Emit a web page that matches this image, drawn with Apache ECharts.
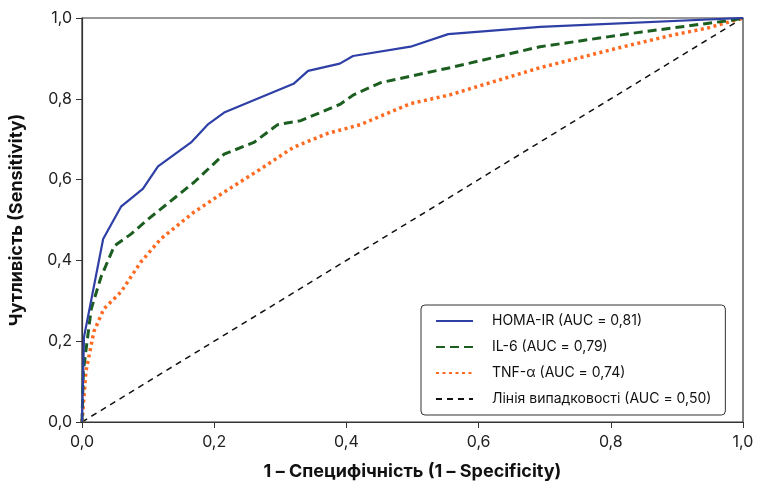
<!DOCTYPE html>
<html><head><meta charset="utf-8">
<script src="https://cdn.jsdelivr.net/npm/echarts@6/dist/echarts.min.js"></script>
<style>html,body{margin:0;padding:0;background:#fff}#c{width:757px;height:486px}</style>
</head><body><div id="c"></div>
<script>
const xTicks = [0, 0.2, 0.4, 0.6, 0.8, 1.0];
const seriesNames = ['HOMA-IR (AUC = 0,81)', 'IL-6 (AUC = 0,79)', 'TNF-α (AUC = 0,74)', 'Лінія випадковості (AUC = 0,50)'];
const homaFpr = [0, 0.003, 0.032, 0.059, 0.092, 0.115, 0.165, 0.19, 0.215, 0.32, 0.342, 0.39, 0.41, 0.497, 0.554, 0.693, 1.0];
const homaTpr = [0, 0.21, 0.453, 0.533, 0.577, 0.633, 0.692, 0.736, 0.766, 0.837, 0.869, 0.887, 0.906, 0.929, 0.96, 0.978, 1.0];
const il6Fpr = [0, 0.002, 0.014, 0.029, 0.049, 0.074, 0.1, 0.17, 0.215, 0.26, 0.296, 0.331, 0.39, 0.411, 0.452, 0.557, 0.693, 0.845, 0.985, 1.0];
const il6Tpr = [0, 0.126, 0.28, 0.36, 0.436, 0.465, 0.502, 0.594, 0.663, 0.692, 0.736, 0.746, 0.786, 0.81, 0.84, 0.877, 0.929, 0.965, 0.995, 1.0];
const tnfFpr = [0, 0.006, 0.018, 0.033, 0.059, 0.089, 0.119, 0.169, 0.215, 0.27, 0.32, 0.371, 0.421, 0.497, 0.557, 0.693, 0.819, 0.894, 0.946, 1.0];
const tnfTpr = [0, 0.126, 0.224, 0.28, 0.322, 0.396, 0.453, 0.519, 0.569, 0.626, 0.68, 0.714, 0.736, 0.788, 0.81, 0.877, 0.929, 0.958, 0.975, 1.0];
const refFpr = [0, 1];
const refTpr = [0, 1];

const pairs = (xs, ys) => xs.map((x, i) => [x, ys[i]]);
const fmt = v => v.toFixed(1).replace('.', ',');
const FONT = 'Inter';

const chart = echarts.init(document.getElementById('c'), null, {renderer: 'canvas'});
chart.setOption({
  animation: false,
  backgroundColor: '#fff',
  grid: {left: 81, right: 14, top: 18, bottom: 62, show: true, borderColor: '#333', borderWidth: 1.2, backgroundColor: 'transparent'},
  xAxis: {
    type: 'value', min: 0, max: 1, interval: 0.2,
    name: '1 – Специфічність (1 – Specificity)', nameLocation: 'middle', nameGap: 41,
    nameTextStyle: {fontFamily: FONT, fontSize: 18, fontWeight: 'bold', color: '#111'},
    axisLine: {show: true, lineStyle: {color: '#333', width: 1.2}},
    axisTick: {show: true, length: 6, lineStyle: {color: '#333'}},
    axisLabel: {formatter: fmt, fontFamily: FONT, fontSize: 16, color: '#222', margin: 12},
    splitLine: {show: false}
  },
  yAxis: {
    type: 'value', min: 0, max: 1, interval: 0.2,
    name: 'Чутливість (Sensitivity)', nameLocation: 'middle', nameGap: 56,
    nameTextStyle: {fontFamily: FONT, fontSize: 18, fontWeight: 'bold', color: '#111'},
    axisLine: {show: true, lineStyle: {color: '#333', width: 1.2}},
    axisTick: {show: true, length: 6, lineStyle: {color: '#333'}},
    axisLabel: {formatter: fmt, fontFamily: FONT, fontSize: 16, color: '#222', margin: 10},
    splitLine: {show: false}
  },
  legend: {
    orient: 'vertical', left: 421, top: 305,
    padding: [9, 14, 9, 14], itemGap: 12, itemWidth: 37, itemHeight: 14,
    borderColor: '#333', borderWidth: 1, borderRadius: 4, backgroundColor: '#fff',
    itemStyle: {opacity: 0},
    textStyle: {fontFamily: FONT, fontSize: 14, color: '#111', padding: [0, 0, 0, 14]},
    data: seriesNames
  },
  series: [
    {name: seriesNames[0], type: 'line', data: pairs(homaFpr, homaTpr), symbol: 'none', z: 5,
     lineStyle: {color: '#2E3FA6', width: 2.2}, itemStyle: {color: '#2E3FA6'}},
    {name: seriesNames[1], type: 'line', data: pairs(il6Fpr, il6Tpr), symbol: 'none', z: 4,
     lineStyle: {color: '#1B5E20', width: 3, type: [9, 5]}, itemStyle: {color: '#1B5E20'}},
    {name: seriesNames[2], type: 'line', data: pairs(tnfFpr, tnfTpr), symbol: 'none', z: 3,
     lineStyle: {color: '#FF6A21', width: 3.5, type: [3, 3.5]}, itemStyle: {color: '#FF6A21'}},
    {name: seriesNames[3], type: 'line', data: pairs(refFpr, refTpr), symbol: 'none', z: 2,
     lineStyle: {color: '#111', width: 1.5, type: [6, 5]}, itemStyle: {color: '#111'}}
  ]
});
</script></body></html>
